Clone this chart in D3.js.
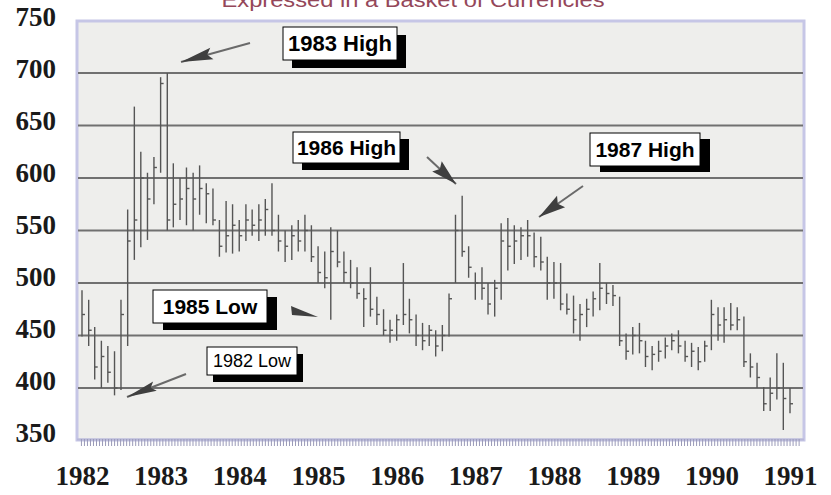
<!DOCTYPE html>
<html><head><meta charset="utf-8">
<script src="https://cdn.jsdelivr.net/npm/d3@7"></script>
<style>
html,body{margin:0;padding:0;background:#fff;}
svg{display:block;}
</style></head>
<body>
<svg id="c" width="831" height="495"></svg>
<script>
// ---- data (monthly bars, Jan 1982 .. Jan 1991) ----
const startMonth = new Date(1982, 0, 1);
const endMonth = new Date(1991, 1, 1);
const high = [493,484,458,445,440,435,484,570,668,625,605,620,
              696,700,614,600,610,605,612,595,590,560,578,575,
              560,575,570,575,580,595,565,550,555,560,565,555,
              535,530,553,550,530,522,515,495,515,487,475,465,
              470,519,485,470,462,460,455,460,490,565,583,535,
              510,515,500,503,557,562,555,553,560,548,544,525,
              520,519,490,488,480,485,492,519,500,498,487,452,
              458,462,445,440,445,448,452,455,445,443,439,445,
              484,477,477,481,477,468,433,424,401,410,433,424,
              400];
const low  = [449,440,408,400,405,393,398,440,522,534,541,575,
              605,550,553,560,555,550,565,557,555,525,529,528,
              530,540,545,540,545,545,530,520,522,530,530,520,
              500,495,465,515,500,495,485,458,468,460,450,443,
              445,460,452,440,436,440,430,435,449,500,525,505,
              484,484,470,468,484,512,518,522,525,515,512,484,
              485,474,470,452,445,458,468,474,480,478,440,427,
              432,433,420,417,425,428,436,433,425,420,417,425,
              436,445,443,455,455,420,410,400,378,378,389,360,
              376];
const close= [470,455,420,430,415,400,470,540,560,600,580,610,
              690,560,575,580,590,580,590,585,560,535,545,555,
              545,560,555,560,570,550,540,535,545,540,550,525,
              510,505,530,520,510,500,490,485,475,470,455,455,
              465,470,465,450,445,455,440,450,485,550,530,515,
              500,495,480,495,540,535,540,545,545,525,520,500,
              500,480,475,465,470,475,485,495,490,488,445,435,
              450,445,430,432,435,440,445,440,430,435,425,440,
              470,460,465,460,465,425,420,410,385,395,400,390,
              385];
const yTicks = [750,700,650,600,550,500,450,400,350];
const gridValues = [700,650,600,550,500,450,400];
const years = [1982,1983,1984,1985,1986,1987,1988,1989,1990,1991];
const titleText = "Expressed in a Basket of Currencies";
const notes = [
  {label:"1983 High", bold:true},
  {label:"1986 High", bold:true},
  {label:"1987 High", bold:true},
  {label:"1985 Low",  bold:true},
  {label:"1982 Low",  bold:false}
];

const months = d3.timeMonth.range(startMonth, endMonth);
const bars = months.map((m,i)=>({date:m, h:high[i], l:low[i], c:close[i]}));

const svg = d3.select("#c");
const plot = {l:77, r:804, t:21, b:440};

const x = d3.scaleTime()
  .domain([new Date(1982,0,1), new Date(1991,0,1)])
  .range([82, 790]);
const y = d3.scaleLinear().domain([350,750]).range([440.5, 20.5]);
const yLab = d3.scaleLinear().domain([350,750]).range([433, 17]);

// title (clipped at top of image, as in the reference)
svg.append("text")
  .attr("x", 413).attr("y", 7)
  .attr("text-anchor","middle")
  .attr("font-family","Liberation Sans, Arial, sans-serif")
  .attr("font-size", 20)
  .attr("textLength", 383).attr("lengthAdjust","spacingAndGlyphs")
  .attr("fill","#94475a")
  .text(titleText);

// plot background
svg.append("rect")
  .attr("x", plot.l).attr("y", plot.t)
  .attr("width", plot.r-plot.l).attr("height", plot.b-plot.t)
  .attr("fill","#eeeeec")
  .attr("stroke","#c6c6e6").attr("stroke-width",3);

// gridlines
svg.append("g").selectAll("line").data(gridValues).join("line")
  .attr("x1", plot.l+1).attr("x2", plot.r-1)
  .attr("y1", d=>y(d)).attr("y2", d=>y(d))
  .attr("stroke","#707070").attr("stroke-width",2);

// bottom tick row
const tickAxis = d3.axisBottom(x)
  .tickValues(d3.timeWeek.every(2).range(new Date(1981,11,1), new Date(1991,1,20)))
  .tickSize(7).tickFormat("");
const tg = svg.append("g").attr("transform",`translate(0,${plot.b-1})`).call(tickAxis);
tg.selectAll(".tick line").attr("stroke","#9a9ab8").attr("stroke-width",1);
tg.selectAll(".tick").filter(d=>x(d)<plot.l+1||x(d)>plot.r).remove();
tg.select(".domain").attr("d",`M${plot.l},0.5H${plot.r}`).attr("stroke","#b8b8d8").attr("stroke-width",2);

// year labels
const yearAxis = d3.axisBottom(x)
  .tickValues(years.map(v=>new Date(v,0,1)))
  .tickSize(0).tickFormat(d3.timeFormat("%Y"));
const yg = svg.append("g").attr("transform","translate(0,463)").call(yearAxis);
yg.select(".domain").remove();
yg.selectAll("text")
  .attr("font-family","Liberation Serif, DejaVu Serif, serif")
  .attr("font-weight","bold")
  .attr("font-size",27)
  .style("font-variant-numeric","oldstyle-nums")
  .attr("fill","#1a1a1a").attr("y",0).attr("dy","0.8em");

// y labels
const yAxis = d3.axisLeft(yLab).tickValues(yTicks).tickSize(0).tickFormat(d3.format("d"));
const ya = svg.append("g").attr("transform","translate(56,0)").call(yAxis);
ya.select(".domain").remove();
ya.selectAll("text")
  .attr("font-family","Liberation Serif, DejaVu Serif, serif")
  .attr("font-weight","bold")
  .attr("font-size",27)
  .style("font-variant-numeric","oldstyle-nums")
  .attr("fill","#1a1a1a").attr("x",0);

// bars
const bg = svg.append("g").attr("stroke","#555").attr("stroke-width",1.4);
bg.selectAll("line.hl").data(bars).join("line").attr("class","hl")
  .attr("x1",d=>x(d.date)).attr("x2",d=>x(d.date))
  .attr("y1",d=>y(d.h)).attr("y2",d=>y(d.l));
bg.selectAll("line.cl").data(bars).join("line").attr("class","cl")
  .attr("x1",d=>x(d.date)).attr("x2",d=>x(d.date)+3)
  .attr("y1",d=>y(d.c)).attr("y2",d=>y(d.c));

// annotations
const boxes = [
  {x:283,y:27,w:114,h:33,dx:9,dy:8,fs:22},
  {x:293,y:132,w:107,h:31,dx:9,dy:7,fs:21},
  {x:590,y:133,w:110,h:33,dx:10,dy:6,fs:21},
  {x:153,y:290,w:114,h:33,dx:10,dy:7,fs:21},
  {x:207,y:347,w:90,h:28,dx:6,dy:7,fs:18}
];
const ag = svg.append("g");
boxes.forEach((b,i)=>{
  ag.append("rect").attr("x",b.x+b.dx).attr("y",b.y+b.dy).attr("width",b.w).attr("height",b.h).attr("fill","#000");
  ag.append("rect").attr("x",b.x).attr("y",b.y).attr("width",b.w).attr("height",b.h)
    .attr("fill","#fff").attr("stroke","#000").attr("stroke-width",1);
  ag.append("text").attr("x",b.x+b.w/2).attr("y",b.y+b.h/2).attr("dy","0.36em")
    .attr("text-anchor","middle")
    .attr("font-family","Liberation Sans, Arial, sans-serif")
    .attr("font-weight",notes[i].bold?"bold":"normal")
    .attr("font-size",b.fs).attr("fill","#000")
    .text(notes[i].label);
});

function arrow(x1,y1,x2,y2,len,hw){
  ag.append("line").attr("x1",x1).attr("y1",y1).attr("x2",x2).attr("y2",y2)
    .attr("stroke","#6a6a6a").attr("stroke-width",2);
  const a = Math.atan2(y2-y1,x2-x1);
  const bx = x2 - len*Math.cos(a), by = y2 - len*Math.sin(a);
  const px = -Math.sin(a)*hw, py = Math.cos(a)*hw;
  ag.append("polygon")
    .attr("points",`${x2},${y2} ${bx+px},${by+py} ${bx+(x2-bx)*0.15},${by+(y2-by)*0.15} ${bx-px},${by-py}`)
    .attr("fill","#3f3f3f");
}
arrow(250,43,181,62,32,6);
arrow(427,157,456,184,26,7);
arrow(583,186,539,217,27,7);
arrow(186,374,127,397,30,5);
ag.append("polygon").attr("points","291,306 318,317 292,315").attr("fill","#3f3f3f");
</script>
</body></html>
